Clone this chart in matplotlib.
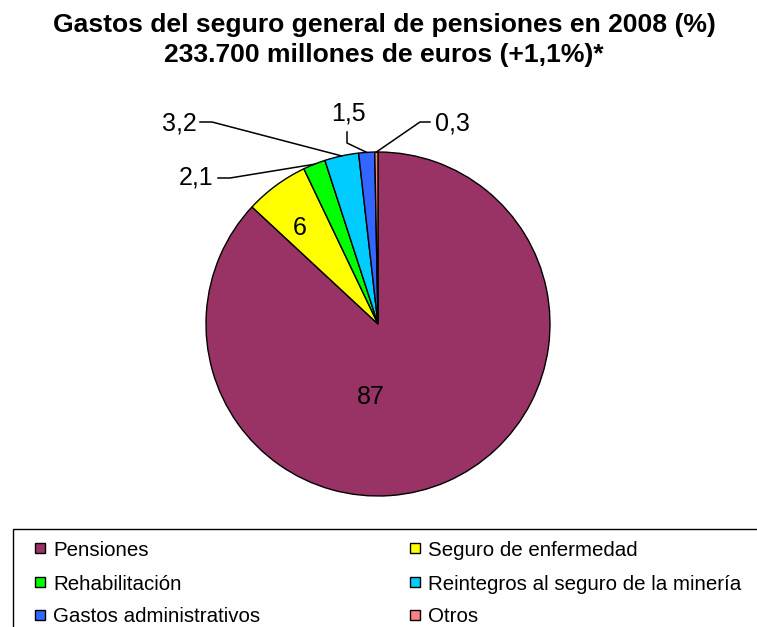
import matplotlib
matplotlib.use("Agg")
import matplotlib.pyplot as plt
import numpy as np
from matplotlib.patches import Rectangle

plt.rcParams['font.family'] = ['Liberation Sans', 'DejaVu Sans']

categories = ["Pensiones", "Seguro de enfermedad", "Rehabilitación",
              "Reintegros al seguro de la minería", "Gastos administrativos", "Otros"]
values = [87, 6, 2.1, 3.2, 1.5, 0.3]
value_labels = ["87", "6", "2,1", "3,2", "1,5", "0,3"]
colors = ["#993366", "#FFFF00", "#00FF00", "#00CCFF", "#3366FF", "#FF8080"]
title_lines = ["Gastos del seguro general de pensiones en 2008 (%)",
               "233.700 millones de euros (+1,1%)*"]

W, H, DPI = 757, 627, 100
fig = plt.figure(figsize=(W / DPI, H / DPI), dpi=DPI)

# pie axes: centre (378, 324) px, radius 172 px
cx, cy, r, m = 378, 324, 172, 1.3
ax = fig.add_axes([(cx - m * r) / W, (H - cy - m * r) / H, 2 * m * r / W, 2 * m * r / H])
wedges, _ = ax.pie(values, colors=colors, startangle=90, counterclock=False,
                   wedgeprops=dict(edgecolor="black", linewidth=1.0))
ax.set_xlim(-m, m)
ax.set_ylim(-m, m)
ax.set_aspect("equal")
ax.axis("off")

def px(x, y):
    return ((x - cx) / r, (cy - y) / r)

lab_fs = 18
ax.text(*px(371, 397), value_labels[0], ha="center", va="center", fontsize=lab_fs)
ax.text(*px(300, 228), value_labels[1], ha="center", va="center", fontsize=lab_fs)

# outside labels with leader lines
outside = {
    2: (px(213, 178), "right", [px(218, 178), px(230, 178)]),
    3: (px(197, 123), "right", [px(200, 122), px(212, 122)]),
    4: (px(348, 113), "center", [px(347, 132), px(347, 143)]),
    5: (px(435, 123), "left", [px(430, 122), px(420, 122)]),
}
for i, (tpos, ha, pts) in outside.items():
    w = wedges[i]
    ang = np.deg2rad((w.theta1 + w.theta2) / 2)
    pts = pts + [(np.cos(ang), np.sin(ang))]
    ax.plot([p[0] for p in pts], [p[1] for p in pts], color="black", lw=1.1)
    ax.text(tpos[0], tpos[1], value_labels[i], ha=ha, va="center", fontsize=lab_fs)

# title, sized so the first line spans ~665 px
t1 = fig.text(384 / W, 1 - 32 / H, title_lines[0], ha="center", va="baseline",
              fontsize=15, fontweight="bold")
fig.canvas.draw()
w1 = t1.get_window_extent().width
tfs = 15 * 665 / w1
t1.set_fontsize(tfs)
fig.text(384 / W, 1 - 62 / H, title_lines[1], ha="center", va="baseline",
         fontsize=tfs, fontweight="bold")

# legend frame runs off the right and bottom edge
fig.patches.append(Rectangle((13 / W, -0.1), 1.0, (H - 529) / H + 0.1,
                             transform=fig.transFigure, fill=False,
                             edgecolor="black", linewidth=1.0))
col_x = [35, 410]
row_y = [548, 582, 615]
for k, i in enumerate([0, 1, 2, 3, 4, 5]):
    x0 = col_x[k % 2]
    y0 = row_y[k // 2]
    fig.patches.append(Rectangle((x0 / W, (H - y0 - 5) / H), 10 / W, 10 / H,
                                 transform=fig.transFigure, facecolor=colors[i],
                                 edgecolor="black", linewidth=1.0))
    fig.text((x0 + 18) / W, 1 - y0 / H, categories[i], ha="left", va="center_baseline",
             fontsize=14.8)

fig.savefig("out.png", dpi=DPI)
